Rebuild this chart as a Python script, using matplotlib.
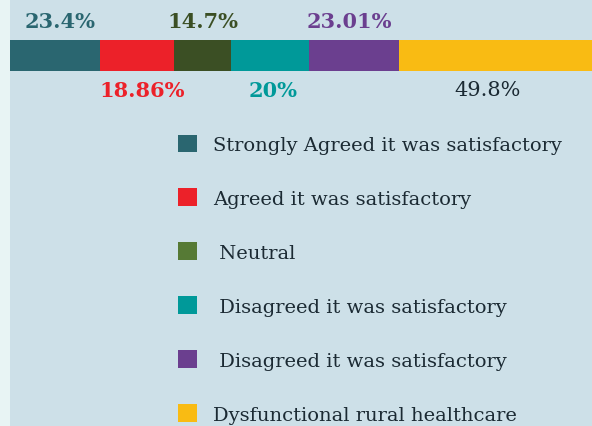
import matplotlib
matplotlib.use("Agg")
import matplotlib.pyplot as plt
from matplotlib.patches import Patch, Rectangle

values = [23.4, 18.86, 14.7, 20, 23.01, 49.8]
value_labels = ["23.4%", "18.86%", "14.7%", "20%", "23.01%", "49.8%"]
legend_labels = ["Strongly Agreed it was satisfactory", "Agreed it was satisfactory",
                 " Neutral", " Disagreed it was satisfactory",
                 " Disagreed it was satisfactory", "Dysfunctional rural healthcare"]
bar_colors = ["#2a6670", "#ec2129", "#3b4f24", "#009999", "#6b3f8f", "#f9bb13"]
legend_colors = ["#2a6670", "#ec2129", "#567a35", "#009999", "#6b3f8f", "#f9bb13"]
label_colors = ["#2a6670", "#ec2129", "#3b4f24", "#009999", "#6b3f8f", "#1b2a33"]
label_pos = ["top", "bottom", "top", "bottom", "top", "bottom"]
label_bold = [True, True, True, True, True, False]

# small horizontal nudges (in points) of the value labels, as in the original layout
label_dx = [4, 4, 0, 2, -3, -6]

W, H = 592, 427
fig = plt.figure(figsize=(W / 100, H / 100), dpi=100)
fig.patch.set_facecolor("#cde0e8")
fig.patches.append(Rectangle((0, 0), 10 / W, 1, transform=fig.transFigure,
                             facecolor="#e8f4f4", edgecolor="none", zorder=0))

font = "DejaVu Serif"
ax = fig.add_axes([9 / W, 1 - 72 / H, (593 - 9) / W, 31 / H])
ax.set_axis_off()
ax.set_xlim(0, sum(values))
ax.set_ylim(0, 1)
left = 0
for v, c in zip(values, bar_colors):
    ax.barh(0.5, v, left=left, height=1, color=c, edgecolor="none")
    left += v

left = 0
for v, lab, c, pos, b, dx in zip(values, value_labels, label_colors, label_pos,
                                 label_bold, label_dx):
    cx = left + v / 2
    y = 1.3 if pos == "top" else -0.3
    va = "bottom" if pos == "top" else "top"
    ax.annotate(lab, (cx, y), xytext=(dx, 0), textcoords="offset points",
                ha="center", va=va, color=c, fontsize=15,
                fontweight="bold" if b else "normal", family=font,
                annotation_clip=False)
    left += v

handles = [Patch(facecolor=c, edgecolor="none") for c in legend_colors]
leg = fig.legend(handles, legend_labels, loc="upper left",
                 bbox_to_anchor=(160 / W, 1 - 118 / H), frameon=False,
                 prop={"family": font, "size": 14}, labelcolor="#1b2a33",
                 handlelength=1.0, handleheight=1.0, handletextpad=0.82,
                 labelspacing=1.78)

fig.savefig("out.png", dpi=100, facecolor=fig.get_facecolor())
